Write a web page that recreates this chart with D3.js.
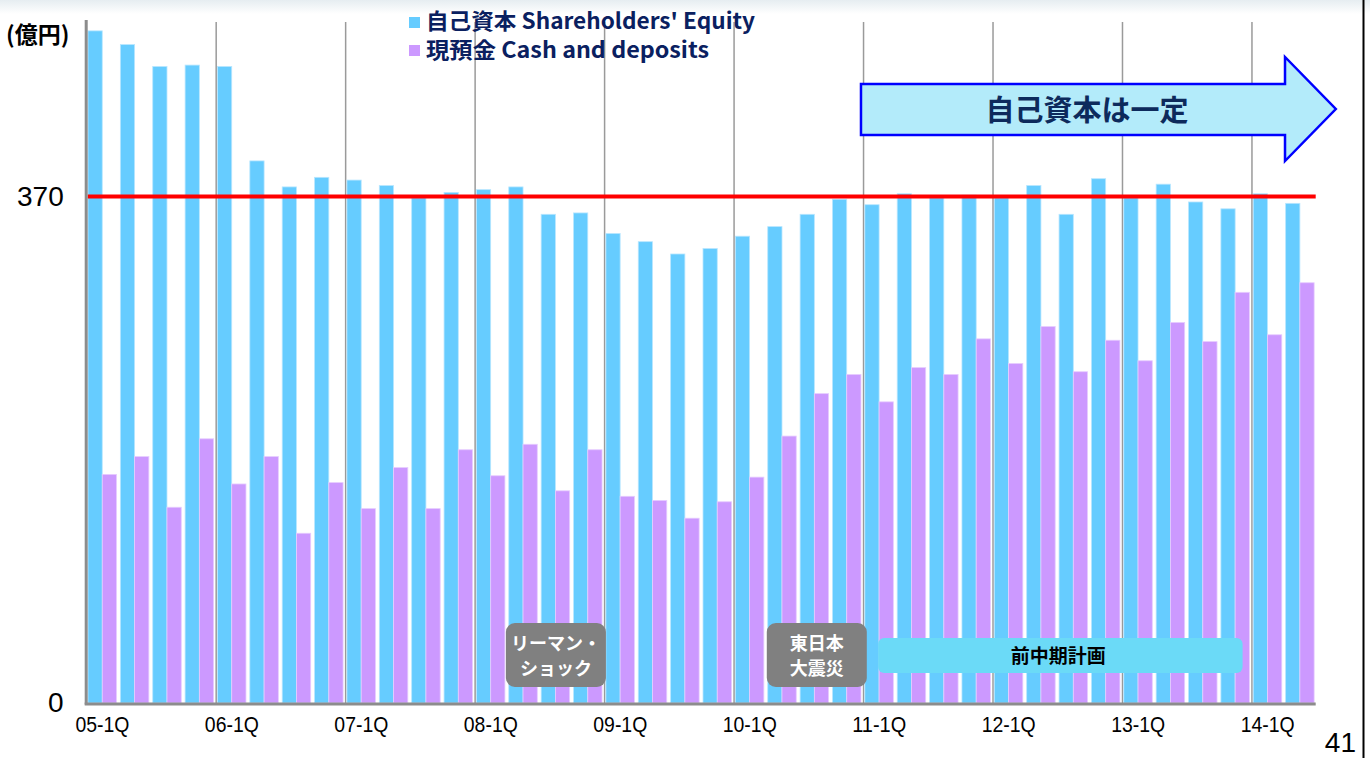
<!DOCTYPE html>
<html>
<head>
  <meta charset="utf-8">
  <title>自己資本と現預金</title>
  <script src="https://d3js.org/d3.v7.min.js"></script>
  <style>
    body { margin: 0; background: #fff; }
    svg { display: block; }
    .jp { font-family: "Noto Sans CJK JP", sans-serif; }
    .num { font-family: "Liberation Sans", Arial, sans-serif; }
  </style>
</head>
<body>
  <script>
    var width = 1370,
        height = 758;

    // quarter categories
    var quarters = [
      "05-1Q", "05-2Q", "05-3Q", "05-4Q",
      "06-1Q", "06-2Q", "06-3Q", "06-4Q",
      "07-1Q", "07-2Q", "07-3Q", "07-4Q",
      "08-1Q", "08-2Q", "08-3Q", "08-4Q",
      "09-1Q", "09-2Q", "09-3Q", "09-4Q",
      "10-1Q", "10-2Q", "10-3Q", "10-4Q",
      "11-1Q", "11-2Q", "11-3Q", "11-4Q",
      "12-1Q", "12-2Q", "12-3Q", "12-4Q",
      "13-1Q", "13-2Q", "13-3Q", "13-4Q",
      "14-1Q", "14-2Q"
    ];
    var tickLabels = ["05-1Q", "06-1Q", "07-1Q", "08-1Q", "09-1Q", "10-1Q", "11-1Q", "12-1Q", "13-1Q", "14-1Q"];

    // 自己資本 Shareholders' Equity (億円)
    var equity = [491, 481, 465, 466, 465, 396, 377, 384, 382, 378, 369, 373, 375, 377, 357, 358,
                  343, 337, 328, 332, 341, 348, 357, 368, 364, 372, 369, 371, 369, 378, 357, 383,
                  369, 379, 366, 361, 372, 365];
    // 現預金 Cash and deposits (億円)
    var cash = [167, 180, 143, 193, 160, 180, 124, 161, 142, 172, 142, 185, 166, 189, 155, 185,
                151, 148, 135, 147, 165, 195, 226, 240, 220, 245, 240, 266, 248, 275, 242, 265,
                250, 278, 264, 300, 269, 307];

    var yTicks = [0, 370];
    var refValue = 370;

    var seriesNames = ["自己資本  Shareholders' Equity", "現預金  Cash and deposits"];
    var seriesColors = ["#66ccff", "#cc99ff"];

    // gray annotation boxes (quarter index span, text lines)
    var eventLabels = [["リーマン・", "ショック"], ["東日本", "大震災"]];
    var eventSpans = [[12.92, 16.01], [20.98, 24.07]];
    var planLabel = "前中期計画";
    var planSpan = [24.42, 35.68];
    var arrowLabel = "自己資本は一定";
    var arrowSpan = [23.89, 36.99, 38.56];

    var margin = { left: 87.7, right: 52.3, top: 22, bottom: 55 };

    var svg = d3.select('body')
      .append('svg')
      .attr('width', width)
      .attr('height', height);

    // faint band at the very top
    var defs = svg.append('defs');
    var grad = defs.append('linearGradient')
      .attr('id', 'topfade').attr('x1', 0).attr('y1', 0).attr('x2', 0).attr('y2', 1);
    grad.append('stop').attr('offset', '0%').attr('stop-color', '#e6edf1');
    grad.append('stop').attr('offset', '100%').attr('stop-color', '#ffffff');
    svg.append('rect').attr('x', 0).attr('y', 0).attr('width', width).attr('height', 14)
      .attr('fill', 'url(#topfade)');

    var x0 = d3.scaleBand()
      .domain(quarters)
      .range([margin.left, width - margin.right])
      .padding(0);

    var x1 = d3.scaleBand()
      .domain([0, 1])
      .range([0.3, 28.8])
      .padding(0);

    var y = d3.scaleLinear()
      .domain([0, refValue])
      .range([703, 196.5]);

    // fractional quarter position
    function qx(i) { return x0.range()[0] + i * x0.step(); }

    // year grid lines
    svg.append('g')
      .selectAll('line')
      .data(tickLabels.slice(1))
      .enter()
      .append('line')
      .attr('x1', function(d) { return x0(d) - 1; })
      .attr('x2', function(d) { return x0(d) - 1; })
      .attr('y1', margin.top)
      .attr('y2', y(0))
      .attr('stroke', '#9a9a9a')
      .attr('stroke-width', 1.5);

    // bars
    var groups = svg.append('g')
      .selectAll('g')
      .data(quarters)
      .enter()
      .append('g')
      .attr('transform', function(d) { return 'translate(' + x0(d) + ',0)'; });

    groups.selectAll('rect')
      .data(function(d, i) { return [equity[i], cash[i]]; })
      .enter()
      .append('rect')
      .attr('x', function(d, j) { return x1(j); })
      .attr('width', x1.bandwidth())
      .attr('y', function(d) { return y(d); })
      .attr('height', function(d) { return y(0) - y(d); })
      .attr('fill', function(d, j) { return seriesColors[j]; })
      .attr('stroke', function(d, j) { return j === 0 ? '#b8e6ff' : '#e6ccff'; })
      .attr('stroke-width', 0.8);

    // 370 reference line
    svg.append('line')
      .attr('x1', margin.left)
      .attr('x2', width - margin.right - 2)
      .attr('y1', y(refValue))
      .attr('y2', y(refValue))
      .attr('stroke', '#ff0000')
      .attr('stroke-width', 4);

    // axes lines
    svg.append('line')
      .attr('x1', margin.left - 1.5).attr('x2', margin.left - 1.5)
      .attr('y1', margin.top - 2).attr('y2', y(0) + 1.5)
      .attr('stroke', '#8c8c8c').attr('stroke-width', 3);
    svg.append('line')
      .attr('x1', margin.left - 3).attr('x2', width - margin.right - 2)
      .attr('y1', y(0) + 1).attr('y2', y(0) + 1)
      .attr('stroke', '#8c8c8c').attr('stroke-width', 3);

    // y axis labels
    var yAxis = svg.append('g')
      .attr('transform', 'translate(' + margin.left + ',0)')
      .call(d3.axisLeft(y).tickValues(yTicks).tickSize(0).tickPadding(24));
    yAxis.select('.domain').remove();
    yAxis.selectAll('text')
      .style('font-size', '28px')
      .style('font-family', '"Liberation Sans", Arial, sans-serif')
      .attr('fill', '#000');

    // x axis labels
    var xAxis = svg.append('g')
      .attr('transform', 'translate(-1.5,' + (y(0) + 9) + ')')
      .call(d3.axisBottom(x0).tickValues(tickLabels).tickSize(0).tickPadding(4));
    xAxis.select('.domain').remove();
    xAxis.selectAll('text')
      .style('font-size', '22px')
      .style('font-family', '"Liberation Sans", Arial, sans-serif')
      .attr('textLength', 54)
      .attr('lengthAdjust', 'spacingAndGlyphs')
      .attr('fill', '#000');

    // unit label
    svg.append('text')
      .attr('class', 'jp')
      .attr('x', 6)
      .attr('y', 43)
      .attr('font-size', 23)
      .attr('font-weight', 'bold')
      .text('(億円)');

    // legend
    var legend = svg.append('g');
    seriesNames.forEach(function(name, i) {
      legend.append('rect')
        .attr('x', 409).attr('y', 17 + i * 28)
        .attr('width', 11).attr('height', 11)
        .attr('fill', seriesColors[i]);
      legend.append('text')
        .attr('class', 'jp')
        .attr('x', 426)
        .attr('y', 29 + i * 29)
        .attr('font-size', 22)
        .attr('font-weight', 'bold')
        .attr('fill', '#0a2060')
        .attr('textLength', i === 0 ? 329 : 283)
        .attr('lengthAdjust', 'spacingAndGlyphs')
        .text(name);
    });

    // gray event boxes
    eventSpans.forEach(function(s, i) {
      var bx = qx(s[0]), bw = qx(s[1]) - qx(s[0]);
      svg.append('rect')
        .attr('x', bx).attr('y', 623)
        .attr('width', bw).attr('height', 64)
        .attr('rx', 9)
        .attr('fill', '#808080');
      eventLabels[i].forEach(function(t, k) {
        svg.append('text')
          .attr('class', 'jp')
          .attr('x', bx + bw / 2)
          .attr('y', 650 + k * 25)
          .attr('text-anchor', 'middle')
          .attr('font-size', 18)
          .attr('font-weight', 'bold')
          .attr('fill', '#fff')
          .text(t);
      });
    });

    // plan bar
    var px = qx(planSpan[0]), pw = qx(planSpan[1]) - qx(planSpan[0]);
    svg.append('rect')
      .attr('x', px).attr('y', 638)
      .attr('width', pw).attr('height', 35)
      .attr('rx', 6)
      .attr('fill', '#6bdaf7');
    svg.append('text')
      .attr('class', 'jp')
      .attr('x', px + pw / 2 - 2)
      .attr('y', 663)
      .attr('text-anchor', 'middle')
      .attr('font-size', 19)
      .attr('font-weight', 'bold')
      .attr('fill', '#000')
      .text(planLabel);

    // arrow
    var ax0 = qx(arrowSpan[0]), ax1 = qx(arrowSpan[1]), ax2 = qx(arrowSpan[2]);
    var arrowPts = [
      [ax0, 84], [ax1, 84], [ax1, 57], [ax2, 109], [ax1, 161], [ax1, 135], [ax0, 135]
    ];
    svg.append('path')
      .attr('d', d3.line()(arrowPts) + 'Z')
      .attr('fill', '#b3ebfa')
      .attr('stroke', '#0000ff')
      .attr('stroke-width', 2.5)
      .attr('stroke-linejoin', 'miter');
    svg.append('text')
      .attr('class', 'jp')
      .attr('x', 1087)
      .attr('y', 121)
      .attr('text-anchor', 'middle')
      .attr('font-size', 29)
      .attr('font-weight', 'bold')
      .attr('fill', '#0d2a5c')
      .text(arrowLabel);

    // page number and right border
    svg.append('line')
      .attr('x1', 1363.5).attr('x2', 1363.5)
      .attr('y1', 0).attr('y2', height)
      .attr('stroke', '#000').attr('stroke-width', 2);
    svg.append('text')
      .attr('class', 'num')
      .attr('x', 1356)
      .attr('y', 752)
      .attr('text-anchor', 'end')
      .attr('font-size', 28)
      .text('41');
  </script>
</body>
</html>
